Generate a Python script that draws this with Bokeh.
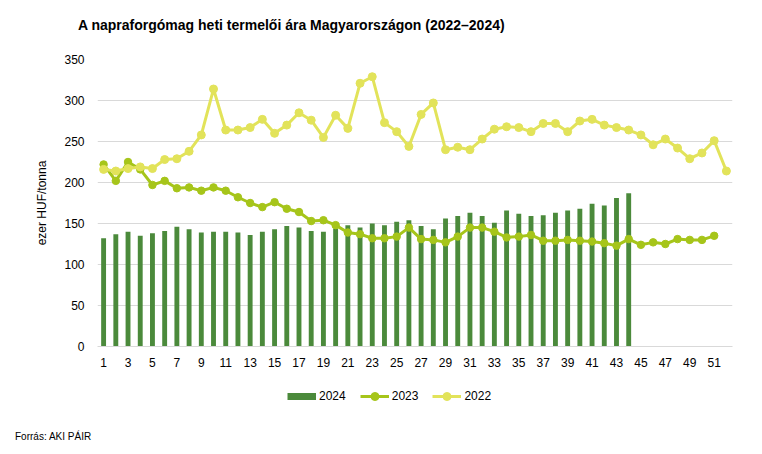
from bokeh.plotting import figure
from bokeh.layouts import column
from bokeh.models import (ColumnDataSource, Range1d, FixedTicker, Legend, LegendItem, Div)
from bokeh.embed import file_html
from bokeh.resources import INLINE

# ---- data ----
weeks = list(range(1, 53))
tick_weeks = list(range(1, 52, 2))
y_ticks = [0, 50, 100, 150, 200, 250, 300, 350]

price_2024 = [132, 137, 140, 135, 138, 141, 146, 143, 139, 140,
              140, 139, 136, 140, 143, 147, 145, 141, 140, 144,
              148, 145, 150, 148, 152, 154, 147, 143, 156, 159,
              163, 159, 151, 166, 162, 159, 160, 163, 166, 168,
              174, 172, 181, 187]
price_2023 = [222, 202, 225, 216, 197, 202, 193, 194, 190, 194,
              190, 182, 175, 170, 176, 168, 164, 153, 154, 148,
              139, 137, 132, 132, 134, 145, 131, 130, 127, 134,
              145, 145, 140, 133, 134, 136, 129, 129, 130, 129,
              128, 126, 123, 131, 124, 127, 125, 131, 130, 130,
              135]
price_2022 = [216, 214, 217, 219, 217, 228, 229, 238, 258, 314,
              264, 264, 267, 277, 260, 270, 285, 276, 255, 282,
              266, 321, 329, 273, 262, 244, 283, 297, 240, 243,
              240, 253, 265, 268, 267, 262, 272, 272, 262, 275,
              277, 270, 267, 264, 258, 246, 253, 242, 229, 236,
              251, 214]

series_labels = ["2024", "2023", "2022"]
title_text = "A napraforgómag heti termelői ára Magyarországon (2022–2024)"
y_label = "ezer HUF/tonna"
source_text = "Forrás: AKI PÁIR"

C24 = "#4B8A3B"
C23 = "#A6C51A"
C22 = "#E2E35A"
FONT = "Liberation Sans"

src24 = ColumnDataSource(dict(x=weeks[:len(price_2024)], y=price_2024))
src23 = ColumnDataSource(dict(x=weeks[:len(price_2023)], y=price_2023))
src22 = ColumnDataSource(dict(x=weeks[:len(price_2022)], y=price_2022))

# ---- title ----
title_div = Div(text=title_text, width=682, height=16, margin=(17, 0, 7, 78),
                styles={"font-family": FONT, "font-size": "14px", "font-weight": "bold",
                        "line-height": "16px", "color": "#000000", "white-space": "nowrap"})

# ---- main chart ----
p = figure(width=760, height=336, output_backend="svg", toolbar_location=None,
           x_range=Range1d(0.5, 52.5), y_range=Range1d(0, 350),
           min_border_left=97, min_border_right=28, min_border_top=19,
           min_border_bottom=30)
p.outline_line_color = None
p.background_fill_color = "white"
p.border_fill_color = "white"

p.vbar(x="x", top="y", width=0.4, source=src24, fill_color=C24, line_color=None)
p.line("x", "y", source=src23, line_color=C23, line_width=3)
p.scatter("x", "y", source=src23, size=7.5, fill_color=C23, line_color=C23)
p.line("x", "y", source=src22, line_color=C22, line_width=3)
p.scatter("x", "y", source=src22, size=8, fill_color=C22, line_color=C22)

p.xgrid.grid_line_color = None
p.ygrid.grid_line_color = "#D9D9D9"
p.ygrid.grid_line_width = 1

p.yaxis.ticker = FixedTicker(ticks=y_ticks)
p.yaxis.axis_line_color = None
p.yaxis.major_tick_line_color = None
p.yaxis.minor_tick_line_color = None
p.yaxis.major_label_standoff = 7
p.yaxis.major_label_text_font = FONT
p.yaxis.major_label_text_font_size = "12px"
p.yaxis.major_label_text_color = "#000000"
p.yaxis.axis_label = y_label
p.yaxis.axis_label_text_font = FONT
p.yaxis.axis_label_text_font_size = "12px"
p.yaxis.axis_label_text_font_style = "normal"
p.yaxis.axis_label_text_color = "#000000"
p.yaxis.axis_label_standoff = 12

p.xaxis.ticker = FixedTicker(ticks=tick_weeks)
p.xaxis.axis_line_color = "#D9D9D9"
p.xaxis.major_tick_line_color = None
p.xaxis.minor_tick_line_color = None
p.xaxis.major_label_standoff = 5
p.xaxis.major_label_text_font = FONT
p.xaxis.major_label_text_font_size = "12px"
p.xaxis.major_label_text_color = "#000000"

# ---- legend strip ----
lg = figure(width=760, height=40, output_backend="svg", toolbar_location=None,
            x_range=Range1d(0, 1), y_range=Range1d(0, 1),
            x_axis_type=None, y_axis_type=None,
            min_border_left=0, min_border_right=0, min_border_top=0, min_border_bottom=0)
lg.outline_line_color = None
lg.xgrid.grid_line_color = None
lg.ygrid.grid_line_color = None
lg.background_fill_color = "white"
lg.border_fill_color = "white"

k24 = lg.line("x", "y", source=src24, line_color=C24, line_width=7, line_cap="butt", visible=False)
k23l = lg.line("x", "y", source=src23, line_color=C23, line_width=3, visible=False)
k23s = lg.scatter("x", "y", source=src23, size=7.5, fill_color=C23, line_color=C23, visible=False)
k22l = lg.line("x", "y", source=src22, line_color=C22, line_width=3, visible=False)
k22s = lg.scatter("x", "y", source=src22, size=8, fill_color=C22, line_color=C22, visible=False)

legend = Legend(items=[LegendItem(label=series_labels[0], renderers=[k24]),
                       LegendItem(label=series_labels[1], renderers=[k23l, k23s]),
                       LegendItem(label=series_labels[2], renderers=[k22l, k22s])],
                orientation="horizontal", location=(190, 10),
                border_line_color=None, background_fill_alpha=0,
                inactive_fill_alpha=0,
                glyph_width=29, glyph_height=20, label_standoff=3, spacing=14,
                padding=0, margin=0,
                label_text_font=FONT, label_text_font_size="12px",
                label_text_color="#000000")
lg.add_layout(legend, "center")

# ---- source note ----
src_div = Div(text=source_text, width=300, height=12, margin=(15, 0, 0, 15),
              styles={"font-family": FONT, "font-size": "10px", "line-height": "12px",
                      "color": "#000000", "white-space": "nowrap"})

layout = column(title_div, p, lg, src_div, spacing=0)
open("out.html", "w").write(file_html(layout, INLINE))
